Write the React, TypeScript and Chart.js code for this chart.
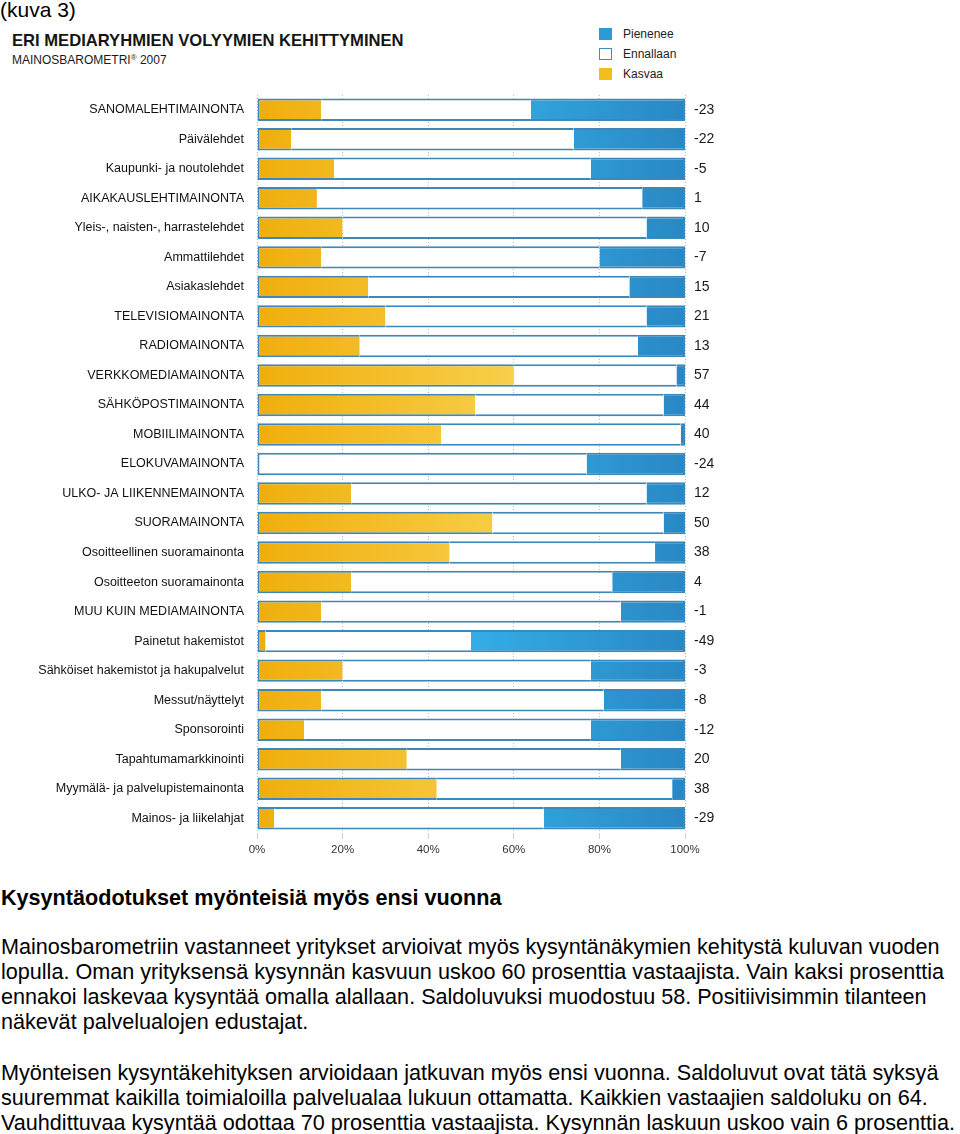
import React, { useEffect, useRef } from "react";
import { Chart, registerables } from "chart.js";

Chart.register(...registerables);

const categories = [
  "SANOMALEHTIMAINONTA",
  "Päivälehdet",
  "Kaupunki- ja noutolehdet",
  "AIKAKAUSLEHTIMAINONTA",
  "Yleis-, naisten-, harrastelehdet",
  "Ammattilehdet",
  "Asiakaslehdet",
  "TELEVISIOMAINONTA",
  "RADIOMAINONTA",
  "VERKKOMEDIAMAINONTA",
  "SÄHKÖPOSTIMAINONTA",
  "MOBIILIMAINONTA",
  "ELOKUVAMAINONTA",
  "ULKO- JA LIIKENNEMAINONTA",
  "SUORAMAINONTA",
  "Osoitteellinen suoramainonta",
  "Osoitteeton suoramainonta",
  "MUU KUIN MEDIAMAINONTA",
  "Painetut hakemistot",
  "Sähköiset hakemistot ja hakupalvelut",
  "Messut/näyttelyt",
  "Sponsorointi",
  "Tapahtumamarkkinointi",
  "Myymälä- ja palvelupistemainonta",
  "Mainos- ja liikelahjat",
];

const kasvaa = [15, 8, 18, 14, 20, 15, 26, 30, 24, 60, 51, 43, 0, 22, 55, 45, 22, 15, 2, 20, 15, 11, 35, 42, 4];
const ennallaan = [49, 66, 60, 76, 71, 65, 61, 61, 65, 38, 44, 56, 77, 69, 40, 48, 61, 70, 48, 58, 66, 67, 50, 55, 63];
const pienenee = [36, 26, 22, 10, 9, 20, 13, 9, 11, 2, 5, 1, 23, 9, 5, 7, 17, 15, 50, 22, 19, 22, 15, 3, 33];

const saldoLabels = ["-23", "-22", "-5", "1", "10", "-7", "15", "21", "13", "57", "44", "40", "-24", "12", "50", "38", "4", "-1", "-49", "-3", "-8", "-12", "20", "38", "-29"];

const xTickLabels = ["0%", "20%", "40%", "60%", "80%", "100%"];

const BORDER = "#3d88b8";
const FONT = "'Liberation Sans', Arial, sans-serif";

function yellowFill(ctx: any) {
  const area = ctx.chart.chartArea;
  if (!area) return "#f2b61a";
  const g = ctx.chart.ctx.createLinearGradient(area.left, 0, area.right, 0);
  g.addColorStop(0, "#f0ae0c");
  g.addColorStop(0.6, "#f7cf4a");
  g.addColorStop(1, "#f7d050");
  return g;
}

function blueFill(ctx: any) {
  const area = ctx.chart.chartArea;
  if (!area) return "#2c9ad6";
  const g = ctx.chart.ctx.createLinearGradient(area.left, 0, area.right, 0);
  g.addColorStop(0, "#36b0ea");
  g.addColorStop(0.5, "#34ade6");
  g.addColorStop(1, "#2988c4");
  return g;
}

export default function App() {
  const canvasRef = useRef<HTMLCanvasElement | null>(null);

  useEffect(() => {
    if (!canvasRef.current) return;
    const chart = new Chart(canvasRef.current, {
      type: "bar",
      data: {
        labels: categories,
        datasets: [
          {
            label: "Kasvaa",
            data: kasvaa,
            backgroundColor: yellowFill,
            borderColor: BORDER,
            borderWidth: { top: 2, bottom: 2, left: 2, right: 0 },
            borderSkipped: false,
          },
          {
            label: "Ennallaan",
            data: ennallaan,
            backgroundColor: "#ffffff",
            borderColor: BORDER,
            borderWidth: (c: any) => ({
              top: 2,
              bottom: 2,
              left: kasvaa[c.dataIndex] === 0 ? 2 : 0,
              right: pienenee[c.dataIndex] === 0 ? 2 : 0,
            }),
            borderSkipped: false,
          },
          {
            label: "Pienenee",
            data: pienenee,
            backgroundColor: blueFill,
            borderColor: BORDER,
            borderWidth: { top: 2, bottom: 2, left: 0, right: 2 },
            borderSkipped: false,
          },
        ] as any,
      },
      options: {
        indexAxis: "y",
        responsive: false,
        animation: false,
        layout: { padding: { top: 10, left: 0, right: 0, bottom: 0 } },
        datasets: { bar: { categoryPercentage: 1, barPercentage: 0.76 } },
        plugins: {
          legend: { display: false },
          tooltip: { enabled: false },
        },
        scales: {
          x: {
            stacked: true,
            min: 0,
            max: 100,
            border: { display: false, dash: [1, 2] },
            grid: {
              color: "#a9c4d6",
              tickColor: "#c4d6e2",
              tickLength: 6,
              lineWidth: 1,
            },
            ticks: {
              stepSize: 20,
              padding: 4,
              color: "#333333",
              font: { family: FONT, size: 11.5 },
              callback: (_v: any, i: number) => xTickLabels[i],
            },
            afterFit: (s: any) => {
              s.height = 37;
            },
          } as any,
          y: {
            stacked: true,
            border: { display: false },
            grid: { display: false, drawTicks: false },
            ticks: {
              autoSkip: false,
              padding: 13,
              color: "#111111",
              font: { family: FONT, size: 12.5 },
            },
            afterFit: (s: any) => {
              s.width = 257;
              s.paddingTop = 0;
              s.paddingBottom = 0;
            },
          },
          y2: {
            type: "category",
            axis: "y",
            position: "right",
            labels: saldoLabels,
            offset: true,
            border: { display: false },
            grid: { display: false, drawTicks: false },
            ticks: {
              autoSkip: false,
              padding: 9,
              color: "#1a1a1a",
              font: { family: FONT, size: 14 },
            },
            afterFit: (s: any) => {
              s.width = 45;
              s.paddingTop = 0;
              s.paddingBottom = 0;
            },
          } as any,
        },
      },
    });
    return () => chart.destroy();
  }, []);

  const textStyle: React.CSSProperties = {
    position: "absolute",
    left: 1,
    fontFamily: FONT,
    fontSize: 21.6,
    lineHeight: "25px",
    whiteSpace: "nowrap",
    color: "#000",
  };

  const legendItems = [
    { label: "Pienenee", fill: "#2c9ad6", border: "#2c9ad6", top: 28 },
    { label: "Ennallaan", fill: "#ffffff", border: "#3a90c0", top: 48 },
    { label: "Kasvaa", fill: "#f4bc1c", border: "#f4bc1c", top: 68 },
  ];

  return (
    <div
      style={{
        position: "absolute",
        left: 0,
        top: 0,
        width: 960,
        height: 1134,
        overflow: "hidden",
        background: "#fff",
      }}
    >
      <div style={{ ...textStyle, left: 0, top: -3, fontSize: 21 }}>(kuva 3)</div>

      <div
        style={{
          position: "absolute",
          left: 12,
          top: 31,
          fontFamily: FONT,
          fontWeight: 700,
          fontSize: 16.6,
          lineHeight: "20px",
          color: "#151515",
          whiteSpace: "nowrap",
        }}
      >
        ERI MEDIARYHMIEN VOLYYMIEN KEHITTYMINEN
      </div>
      <div
        style={{
          position: "absolute",
          left: 12,
          top: 53,
          fontFamily: FONT,
          fontSize: 12,
          lineHeight: "14px",
          color: "#1a1a1a",
          whiteSpace: "nowrap",
        }}
      >
        MAINOSBAROMETRI<sup style={{ fontSize: 8, verticalAlign: "top", lineHeight: "10px" }}>®</sup> 2007
      </div>

      {legendItems.map((it) => (
        <div key={it.label}>
          <div
            style={{
              position: "absolute",
              left: 599,
              top: it.top,
              width: 13,
              height: 12,
              boxSizing: "border-box",
              background: it.fill,
              border: `1.5px solid ${it.border}`,
            }}
          />
          <div
            style={{
              position: "absolute",
              left: 623,
              top: it.top - 2,
              fontFamily: FONT,
              fontSize: 12,
              lineHeight: "16px",
              color: "#222",
              whiteSpace: "nowrap",
            }}
          >
            {it.label}
          </div>
        </div>
      ))}

      <canvas
        ref={canvasRef}
        width={730}
        height={785}
        style={{ position: "absolute", left: 0, top: 85, width: 730, height: 785 }}
      />

      <div style={{ ...textStyle, top: 884.5, fontWeight: 700 }}>
        Kysyntäodotukset myönteisiä myös ensi vuonna
      </div>
      <div style={{ ...textStyle, top: 933.5 }}>
        Mainosbarometriin vastanneet yritykset arvioivat myös kysyntänäkymien kehitystä kuluvan vuoden
        <br />
        lopulla. Oman yrityksensä kysynnän kasvuun uskoo 60 prosenttia vastaajista. Vain kaksi prosenttia
        <br />
        ennakoi laskevaa kysyntää omalla alallaan. Saldoluvuksi muodostuu 58. Positiivisimmin tilanteen
        <br />
        näkevät palvelualojen edustajat.
      </div>
      <div style={{ ...textStyle, top: 1059.5 }}>
        Myönteisen kysyntäkehityksen arvioidaan jatkuvan myös ensi vuonna. Saldoluvut ovat tätä syksyä
        <br />
        suuremmat kaikilla toimialoilla palvelualaa lukuun ottamatta. Kaikkien vastaajien saldoluku on 64.
        <br />
        Vauhdittuvaa kysyntää odottaa 70 prosenttia vastaajista. Kysynnän laskuun uskoo vain 6 prosenttia.
      </div>
    </div>
  );
}
